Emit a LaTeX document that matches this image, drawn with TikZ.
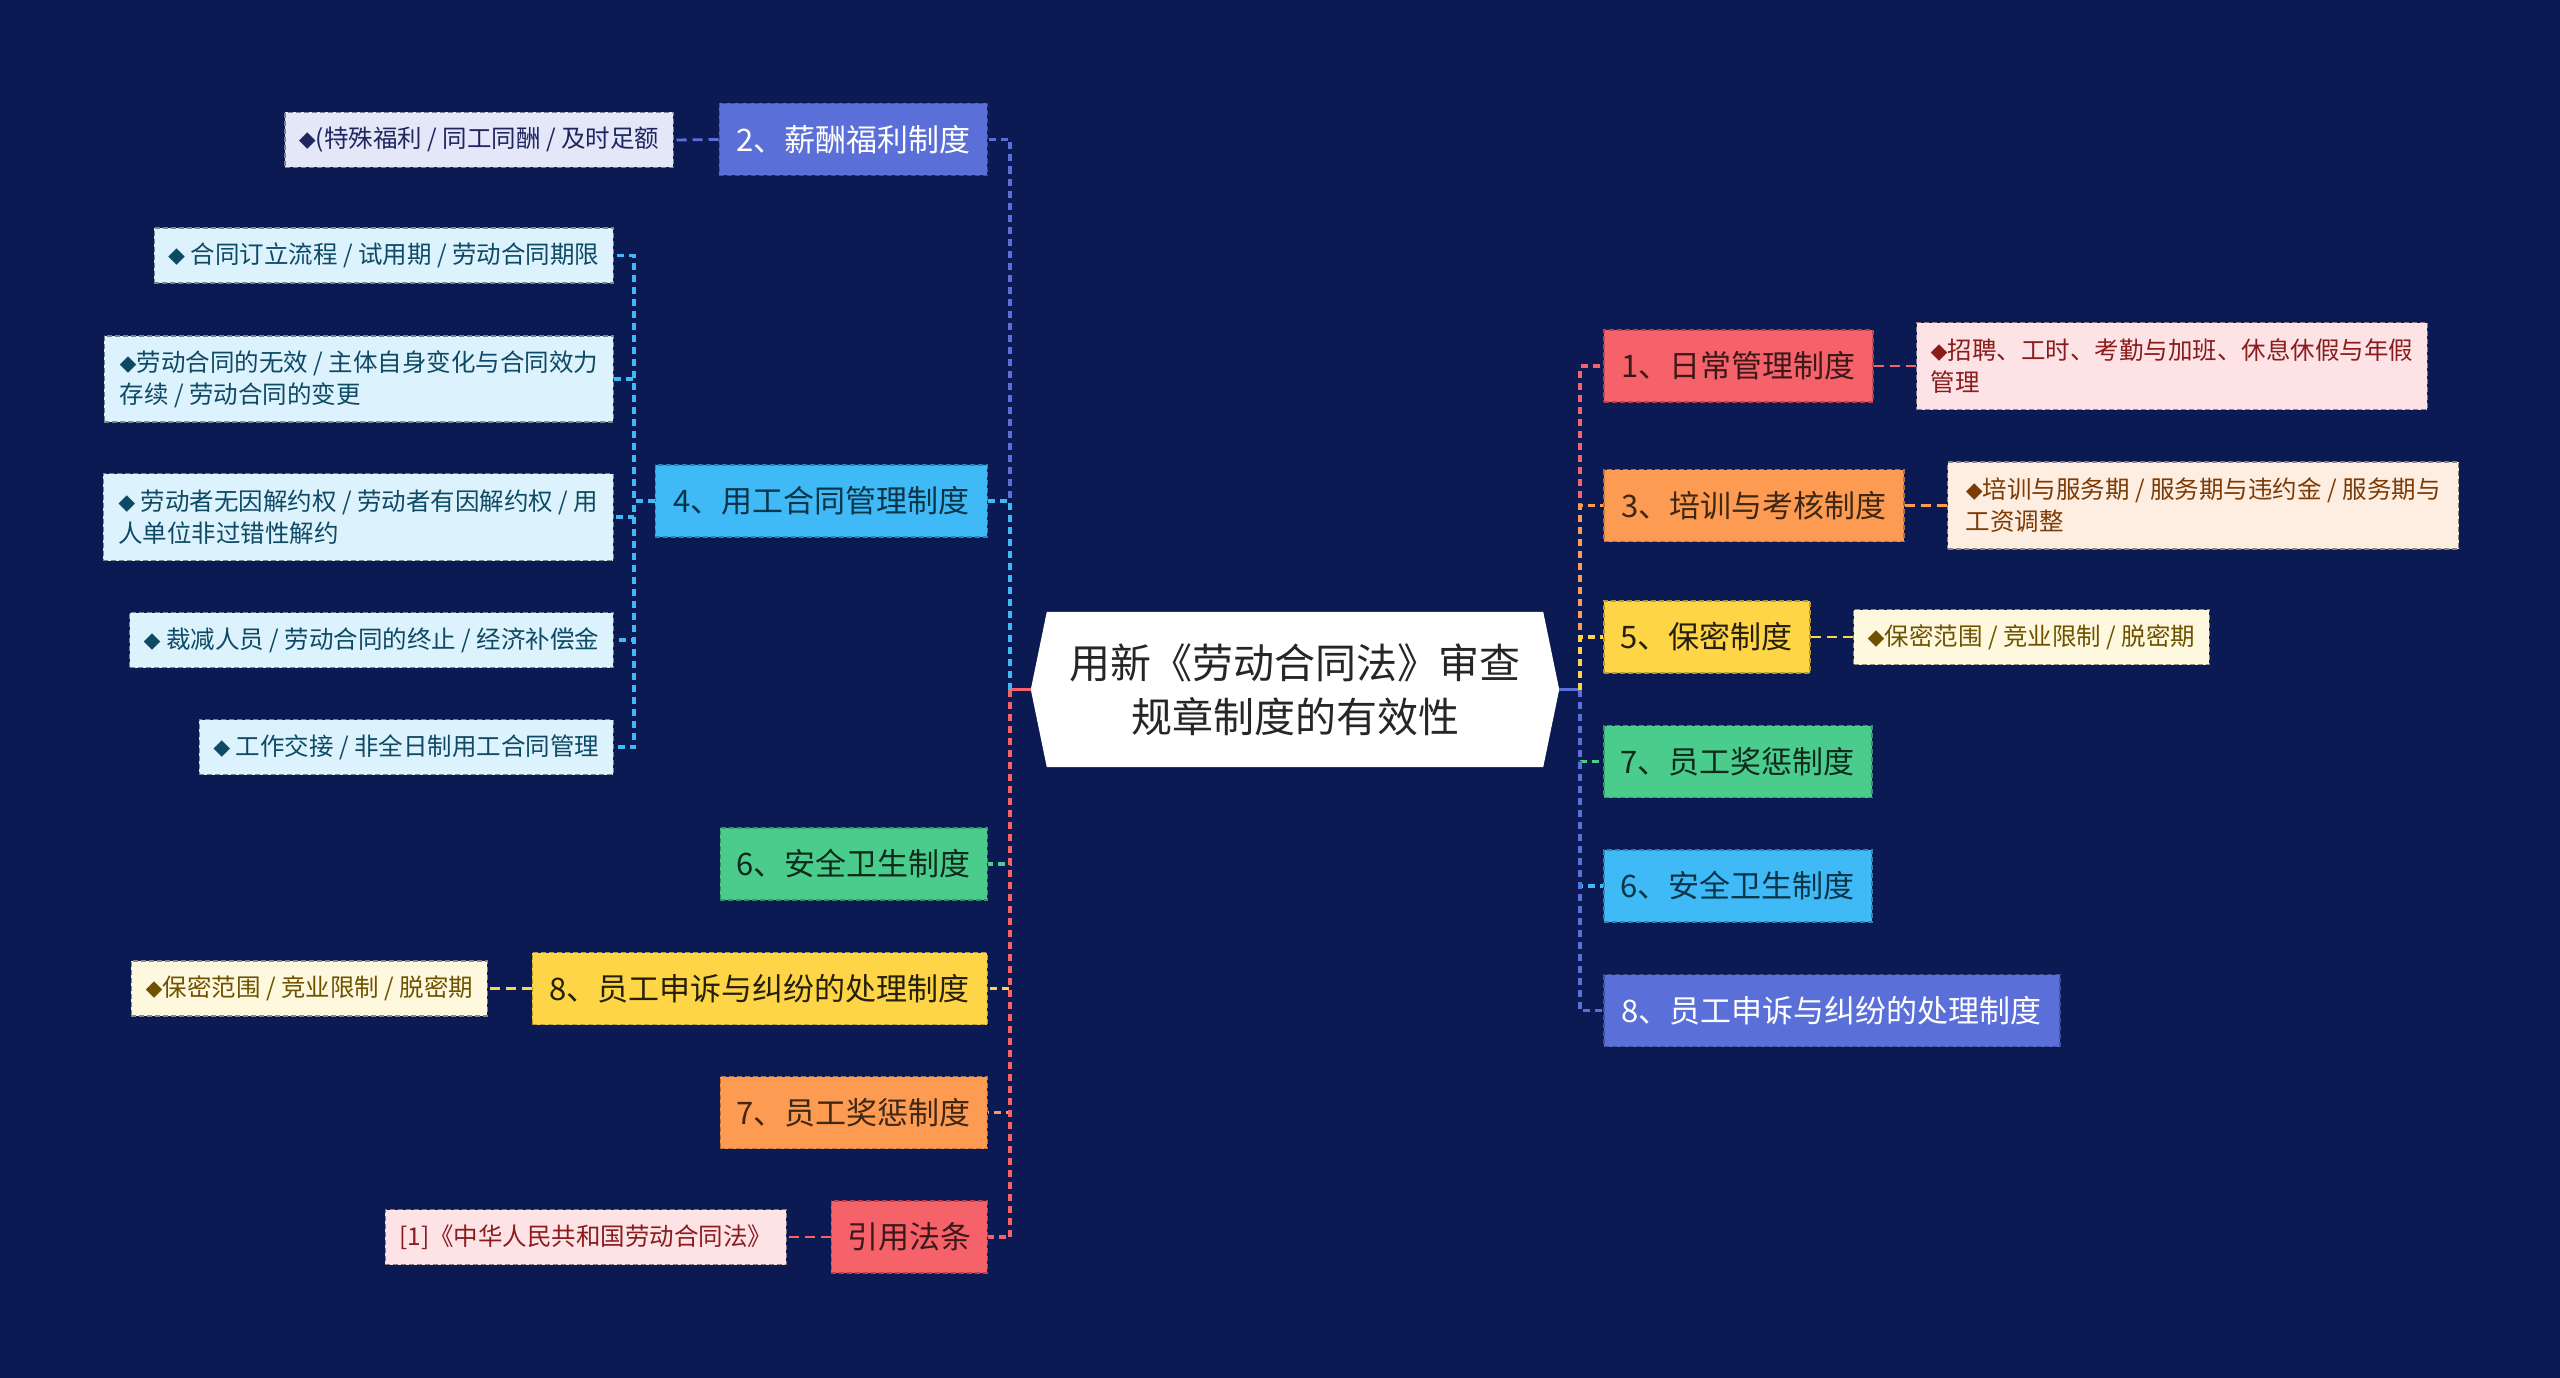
\documentclass[tikz,border=0pt]{standalone}
\usepackage{fontspec}
\setmainfont{Noto Sans CJK SC}
\usetikzlibrary{backgrounds}
\definecolor{bgc}{HTML}{0B1A52}
\definecolor{cPer}{HTML}{5B6FD8}
\definecolor{cSky}{HTML}{3FBAF7}
\definecolor{cGrn}{HTML}{4ACD8C}
\definecolor{cYel}{HTML}{FDD546}
\definecolor{cOra}{HTML}{FD9B52}
\definecolor{cRed}{HTML}{F6626A}
\definecolor{lPer}{HTML}{E4E7F8}
\definecolor{lSky}{HTML}{DCF2FC}
\definecolor{lYel}{HTML}{FEF8DE}
\definecolor{lOra}{HTML}{FEEEE2}
\definecolor{lRed}{HTML}{FDE3E6}
\definecolor{tPer}{HTML}{1E2660}
\definecolor{tSky}{HTML}{0E4A66}
\definecolor{tYel}{HTML}{6E5200}
\definecolor{tOra}{HTML}{7C3A05}
\definecolor{tRed}{HTML}{8A1C1C}
\newcommand\dm{{\fontsize{17}{17}\selectfont ◆}}
\tikzset{
  lone/.style={fill=#1, draw=#1!72!black, dash pattern=on 5pt off 3pt, line width=1.5pt,
    minimum height=72pt, inner xsep=16pt, inner ysep=0pt, font=\fontsize{31}{31}\selectfont},
  leaf/.style={fill=#1, draw=#1!55!black, dash pattern=on 5pt off 3pt, line width=1.3pt,
    minimum height=55pt, inner xsep=14pt, inner ysep=0pt, align=left,
    font=\fontsize{24.5}{32}\selectfont},
  conn/.style={draw=#1, line width=3.2pt, dash pattern=on 7pt off 5pt},
  lconn/.style={draw=#1, line width=2.8pt, dash pattern=on 10pt off 6pt},
  stub/.style={draw=#1, line width=3.2pt},
}
\begin{document}
\begin{tikzpicture}[x=1pt,y=-1pt]
\useasboundingbox (0,0) rectangle (2560,1378);
% central
\node[font=\fontsize{41}{54}\selectfont, align=center, text=black!85,
  minimum width=496pt, minimum height=155pt] (c) at (1295,689.5)
  {用新《劳动合同法》审查\\规章制度的有效性};
\begin{scope}[on background layer]
  \fill[bgc] (0,0) rectangle (2560,1378);
  \fill[white] (c.north west) -- (c.north east) -- ([xshift=16pt]c.east) -- (c.south east)
    -- (c.south west) -- ([xshift=-16pt]c.west) -- cycle;
\end{scope}
\coordinate (cl) at ([xshift=-16pt]c.west);
\coordinate (cr) at ([xshift=16pt]c.east);
\coordinate (tl) at (1010,689.5);
\coordinate (tr) at (1580,689.5);

% left level-1
\node[lone=cPer, text=white, anchor=east, minimum width=268pt] (n2) at (988,139.5) {2、薪酬福利制度};
\node[lone=cSky, text=tSky!70!black, anchor=east, minimum width=332pt] (n4) at (988,501) {4、用工合同管理制度};
\node[lone=cGrn, text=black!80!cGrn, anchor=east, minimum width=267pt] (n6l) at (988,864) {6、安全卫生制度};
\node[lone=cYel, text=black!85!cYel, anchor=east, minimum width=455pt] (n8l) at (988,988.5) {8、员工申诉与纠纷的处理制度};
\node[lone=cOra, text=black!75!cOra, anchor=east, minimum width=267pt] (n7l) at (988,1112.5) {7、员工奖惩制度};
\node[lone=cRed, text=black!75!cRed, anchor=east, minimum width=155pt] (cite) at (988,1237) {引用法条};

% right level-1
\node[lone=cRed, text=black!75!cRed, anchor=west, minimum width=269pt] (n1) at (1603,366) {1、日常管理制度};
\node[lone=cOra, text=black!75!cOra, anchor=west, minimum width=300pt] (n3) at (1603,505.5) {3、培训与考核制度};
\node[lone=cYel, text=black!85!cYel, anchor=west, minimum width=206pt] (n5) at (1603,637) {5、保密制度};
\node[lone=cGrn, text=black!80!cGrn, anchor=west, minimum width=268pt] (n7r) at (1603,761.5) {7、员工奖惩制度};
\node[lone=cSky, text=tSky!70!black, anchor=west, minimum width=268pt] (n6r) at (1603,886) {6、安全卫生制度};
\node[lone=cPer, text=white, anchor=west, minimum width=456pt] (n8r) at (1603,1010.5) {8、员工申诉与纠纷的处理制度};

% leaves
\node[leaf=lPer, text=tPer, anchor=east, minimum width=387pt] (l2) at (674,140) {\dm{}(特殊福利 / 同工同酬 / 及时足额};
\node[leaf=lSky, text=tSky, anchor=east, minimum width=459pt] (la) at (614,255.5) {\dm{} 合同订立流程 / 试用期 / 劳动合同期限};
\node[leaf=lSky, text=tSky, anchor=east, minimum width=509pt, minimum height=86pt] (lb) at (614,379) {\dm{}劳动合同的无效 / 主体自身变化与合同效力\\存续 / 劳动合同的变更};
\node[leaf=lSky, text=tSky, anchor=east, minimum width=510pt, minimum height=87pt] (lc) at (614,517) {\dm{} 劳动者无因解约权 / 劳动者有因解约权 / 用\\人单位非过错性解约};
\node[leaf=lSky, text=tSky, anchor=east, minimum width=483pt] (ld) at (614,640) {\dm{} 裁减人员 / 劳动合同的终止 / 经济补偿金};
\node[leaf=lSky, text=tSky, anchor=east, minimum width=410pt] (le) at (614,747) {\dm{} 工作交接 / 非全日制用工合同管理};
\node[leaf=lYel, text=tYel, anchor=east, minimum width=356pt] (l8) at (488,988.5) {\dm{}保密范围 / 竞业限制 / 脱密期};
\node[leaf=lRed, text=tRed, anchor=east, minimum width=395pt] (lcite) at (787,1237) {[1]《中华人民共和国劳动合同法》};
\node[leaf=lRed, text=tRed, anchor=west, minimum width=510pt, minimum height=87pt] (r1) at (1916,366) {\dm{}招聘、工时、考勤与加班、休息休假与年假\\管理};
\node[leaf=lOra, text=tOra, anchor=west, minimum width=511pt, minimum height=87pt] (r3) at (1947,505.5) {\dm{}培训与服务期 / 服务期与违约金 / 服务期与\\工资调整};
\node[leaf=lYel, text=tYel, anchor=west, minimum width=355pt] (r5) at (1853,637) {\dm{}保密范围 / 竞业限制 / 脱密期};

% central stubs (solid)
\draw[stub=cRed] (cl) -- (tl);
\draw[stub=cPer] (cr) -- (tr);
% trunk connectors left
\draw[conn=cPer] (tl) |- (n2.east);
\draw[conn=cSky] (tl) |- (n4.east);
\draw[conn=cGrn] (tl) |- (n6l.east);
\draw[conn=cYel] (tl) |- (n8l.east);
\draw[conn=cOra] (tl) |- (n7l.east);
\draw[conn=cRed] (tl) |- (cite.east);
% trunk connectors right
\draw[conn=cRed] (tr) |- (n1.west);
\draw[conn=cOra] (tr) |- (n3.west);
\draw[conn=cYel] (tr) |- (n5.west);
\draw[conn=cGrn] (tr) |- (n7r.west);
\draw[conn=cSky] (tr) |- (n6r.west);
\draw[conn=cPer] (tr) |- (n8r.west);

% leaf connectors
\draw[lconn=cPer] (n2.west) -- (l2.east);
\coordinate (st) at (634,501);
\foreach \l in {la,lb,lc,ld,le} { \draw[conn=cSky] (n4.west) -- (st) |- (\l.east); }
\draw[lconn=cYel] (n8l.west) -- (l8.east);
\draw[lconn=cRed] (cite.west) -- (lcite.east);
\draw[lconn=cRed] (n1.east) -- (r1.west);
\draw[lconn=cOra] (n3.east) -- (r3.west);
\draw[lconn=cYel] (n5.east) -- (r5.west);
\end{tikzpicture}
\end{document}
